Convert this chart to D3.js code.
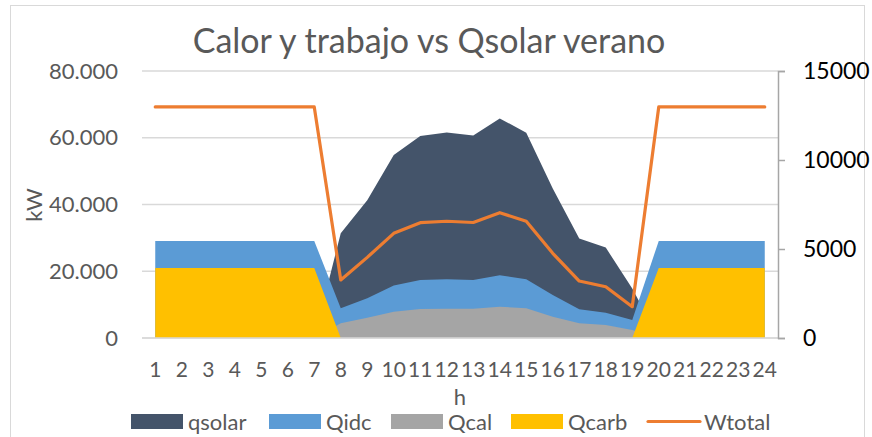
<!DOCTYPE html>
<html>
<head>
<meta charset="utf-8">
<script src="https://cdn.jsdelivr.net/npm/d3@7"></script>
<style>
  body { margin: 0; background: #fff; }
  text { font-family: Lato, "Open Sans", sans-serif; }
</style>
</head>
<body>
<div id="chart"></div>
<script>
var hours = d3.range(1, 25);
// kW (thousands)
var qsolar = [0, 0, 0, 0, 0, 0, 0, 31.4, 41.3, 54.8, 60.5, 61.6, 60.7, 65.8, 61.5, 44.8, 29.8, 27.1, 14.8, 0, 0, 0, 0, 0];
var qidc = [29.1, 29.1, 29.1, 29.1, 29.1, 29.1, 29.1, 8.9, 11.9, 15.7, 17.4, 17.6, 17.4, 18.8, 17.6, 12.9, 8.6, 7.6, 5.4, 29.1, 29.1, 29.1, 29.1, 29.1];
var qcal = [0, 0, 0, 0, 0, 0, 0, 4.4, 6.1, 7.9, 8.7, 8.8, 8.8, 9.4, 8.9, 6.4, 4.4, 3.9, 2.4, 0, 0, 0, 0, 0];
var qcarb = [21, 21, 21, 21, 21, 21, 21, 0, 0, 0, 0, 0, 0, 0, 0, 0, 0, 0, 0, 21, 21, 21, 21, 21];
var wtotal = [12980, 12980, 12980, 12980, 12980, 12980, 12980, 3260, 4530, 5880, 6480, 6560, 6490, 7040, 6560, 4760, 3200, 2880, 1760, 12980, 12980, 12980, 12980, 12980];
var leftTicks = [0, 20, 40, 60, 80];
var rightTicks = [0, 5000, 10000, 15000];

var width = 872, height = 437;
var plot_left = 142, plot_right = 778, plot_top = 71, plot_bottom = 338;

var svg = d3.select('#chart')
    .append('svg')
    .attr('width', width)
    .attr('height', height);

// chart frame
svg.append('rect')
    .attr('x', 10.5).attr('y', 5.5)
    .attr('width', 854).attr('height', 440)
    .attr('fill', 'none')
    .attr('stroke', '#d9d9d9');

var x_scale = d3.scalePoint()
    .domain(hours)
    .range([plot_left, plot_right])
    .padding(0.5);

var y_scale = d3.scaleLinear()
    .domain([0, 80])
    .range([plot_bottom, plot_top]);

var y2_scale = d3.scaleLinear()
    .domain([0, 15000])
    .range([plot_bottom, plot_top]);

// gridlines
svg.selectAll('.grid')
    .data(leftTicks)
    .enter()
    .append('line')
    .attr('x1', plot_left)
    .attr('x2', plot_right)
    .attr('y1', function (d) { return y_scale(d); })
    .attr('y2', function (d) { return y_scale(d); })
    .attr('stroke', '#d9d9d9')
    .attr('stroke-width', 1.5);

// areas are overlapping (not stacked), drawn back to front
var series = [
    { name: 'qsolar', values: qsolar, color: '#44546a' },
    { name: 'Qidc', values: qidc, color: '#5b9bd5' },
    { name: 'Qcal', values: qcal, color: '#a5a5a5' },
    { name: 'Qcarb', values: qcarb, color: '#ffc000' }
];

var area = d3.area()
    .x(function (d, i) { return x_scale(hours[i]); })
    .y0(y_scale(0))
    .y1(function (d) { return y_scale(d); });

svg.selectAll('.area')
    .data(series)
    .enter()
    .append('path')
    .attr('d', function (s) { return area(s.values); })
    .attr('fill', function (s) { return s.color; });

// baseline
svg.append('line')
    .attr('x1', plot_left).attr('x2', plot_right)
    .attr('y1', y_scale(0)).attr('y2', y_scale(0))
    .attr('stroke', '#d9d9d9')
    .attr('stroke-width', 1.5);

var line = d3.line()
    .x(function (d, i) { return x_scale(hours[i]); })
    .y(function (d) { return y2_scale(d); });

svg.append('path')
    .attr('d', line(wtotal))
    .attr('fill', 'none')
    .attr('stroke', '#ed7d31')
    .attr('stroke-width', 3.2)
    .attr('stroke-linejoin', 'round')
    .attr('stroke-linecap', 'round');

// left axis labels
svg.selectAll('.ylab')
    .data(leftTicks)
    .enter()
    .append('text')
    .attr('x', 118)
    .attr('y', function (d) { return y_scale(d); })
    .attr('dy', '0.35em')
    .attr('text-anchor', 'end')
    .attr('fill', '#595959')
    .style('font-size', '22px')
    .text(function (d) { return d === 0 ? '0' : d + '.000'; });

// right axis
var y2_axis = d3.axisRight(y2_scale)
    .tickValues(rightTicks)
    .tickSize(7)
    .tickPadding(18)
    .tickFormat(d3.format('d'));

var g2 = svg.append('g')
    .attr('transform', 'translate(' + plot_right + ',0)')
    .call(y2_axis);
g2.select('.domain').attr('stroke', '#a6a6a6').attr('stroke-width', 1.5);
g2.selectAll('.tick line').attr('stroke', '#a6a6a6').attr('stroke-width', 1.5);
g2.selectAll('.tick text')
    .attr('fill', '#000')
    .style('font-size', '23px')
    .style('font-family', 'Lato, sans-serif');

// x axis labels
svg.selectAll('.xlab')
    .data(hours)
    .enter()
    .append('text')
    .attr('x', function (d) { return x_scale(d); })
    .attr('y', 377)
    .attr('text-anchor', 'middle')
    .attr('fill', '#595959')
    .style('font-size', '21px')
    .text(function (d) { return d; });

// axis titles
svg.append('text')
    .attr('x', 460).attr('y', 405)
    .attr('text-anchor', 'middle')
    .attr('fill', '#595959')
    .style('font-size', '22px')
    .text('h');

svg.append('text')
    .attr('transform', 'translate(42,205) rotate(-90)')
    .attr('text-anchor', 'middle')
    .attr('fill', '#595959')
    .style('font-size', '22px')
    .text('kW');

// title
svg.append('text')
    .attr('x', 429).attr('y', 53)
    .attr('text-anchor', 'middle')
    .attr('fill', '#595959')
    .style('font-size', '34px')
    .text('Calor y trabajo vs Qsolar verano');

// legend
var legend = [
    { name: 'qsolar', color: '#44546a', x: 131, type: 'area' },
    { name: 'Qidc', color: '#5b9bd5', x: 269, type: 'area' },
    { name: 'Qcal', color: '#a5a5a5', x: 391, type: 'area' },
    { name: 'Qcarb', color: '#ffc000', x: 511, type: 'area' },
    { name: 'Wtotal', color: '#ed7d31', x: 647, type: 'line' }
];

var lg = svg.selectAll('.legend')
    .data(legend)
    .enter()
    .append('g');

lg.filter(function (d) { return d.type === 'area'; })
    .append('rect')
    .attr('x', function (d) { return d.x; })
    .attr('y', 414)
    .attr('width', 52)
    .attr('height', 15)
    .attr('fill', function (d) { return d.color; });

lg.filter(function (d) { return d.type === 'line'; })
    .append('line')
    .attr('x1', function (d) { return d.x + 1; })
    .attr('x2', function (d) { return d.x + 53; })
    .attr('y1', 421.5).attr('y2', 421.5)
    .attr('stroke', function (d) { return d.color; })
    .attr('stroke-width', 3.2)
    .attr('stroke-linecap', 'round');

lg.append('text')
    .attr('x', function (d) { return d.x + 57; })
    .attr('y', 430)
    .attr('fill', '#595959')
    .style('font-size', '22px')
    .text(function (d) { return d.name; });
</script>
</body>
</html>
